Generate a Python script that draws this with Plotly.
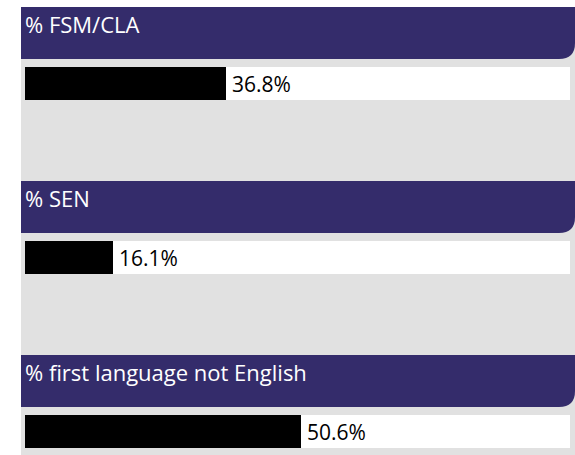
import plotly.graph_objects as go

# Indicator labels and their percentages
categories = ["% FSM/CLA", "% SEN", "% first language not English"]
values = [36.8, 16.1, 50.6]
track_max = [100, 100, 100]

PURPLE = "#342c6b"
GREY = "#e1e1e1"
FONT = "Open Sans"

W, H = 575, 455
M_L, M_R, M_T, M_B = 21, 0, 7, 0
plot_w = W - M_L - M_R
plot_h = H - M_T - M_B

# pixels per category slot and x-axis scale
slot = 174.0
px_per_unit = 5.45
x_lo = -4 / px_per_unit
x_hi = 100 + 5 / px_per_unit
y_top = -76.5 / slot
y_bot = y_top + plot_h / slot

bar_w = 33 / slot
idx = list(range(len(categories)))

fig = go.Figure()

# white track behind every bar
fig.add_trace(go.Bar(
    y=idx, x=track_max, orientation="h", width=bar_w,
    marker=dict(color="white", line=dict(width=0)),
    hoverinfo="skip", showlegend=False,
))

# value bars
fig.add_trace(go.Bar(
    y=idx, x=values, orientation="h", width=bar_w,
    marker=dict(color="black", line=dict(width=0)),
    showlegend=False,
))

# header bands with a rounded bottom-right corner
r_px = 16
rx = r_px / px_per_unit
ry = r_px / slot
shapes = []
annotations = []
for i, name in enumerate(categories):
    top = i + y_top
    bot = i - 24.5 / slot
    path = (
        f"M {x_lo},{top} L {x_hi},{top} L {x_hi},{bot - ry} "
        f"Q {x_hi},{bot} {x_hi - rx},{bot} L {x_lo},{bot} Z"
    )
    shapes.append(dict(type="path", path=path, xref="x", yref="y",
                       fillcolor=PURPLE, line=dict(width=0), layer="below"))
    annotations.append(dict(
        x=x_lo, y=top, xref="x", yref="y", xanchor="left", yanchor="top",
        xshift=2, yshift=0, text=name, showarrow=False,
        font=dict(family=FONT, size=22, color="white"),
    ))

# value labels just past the end of each bar
for i, v in enumerate(values):
    annotations.append(dict(
        x=v, y=i, xref="x", yref="y", xanchor="left", yanchor="middle",
        xshift=4, yshift=0, text=f"{v:.1f}%", showarrow=False,
        font=dict(family=FONT, size=21, color="black"),
    ))

fig.update_layout(
    width=W, height=H,
    margin=dict(l=M_L, r=M_R, t=M_T, b=M_B, pad=0),
    paper_bgcolor="white", plot_bgcolor=GREY,
    barmode="overlay", bargap=0,
    shapes=shapes, annotations=annotations,
    xaxis=dict(range=[x_lo, x_hi], visible=False, fixedrange=True),
    yaxis=dict(range=[y_bot, y_top], visible=False, fixedrange=True),
    font=dict(family=FONT),
)

fig.write_html("out.html")
